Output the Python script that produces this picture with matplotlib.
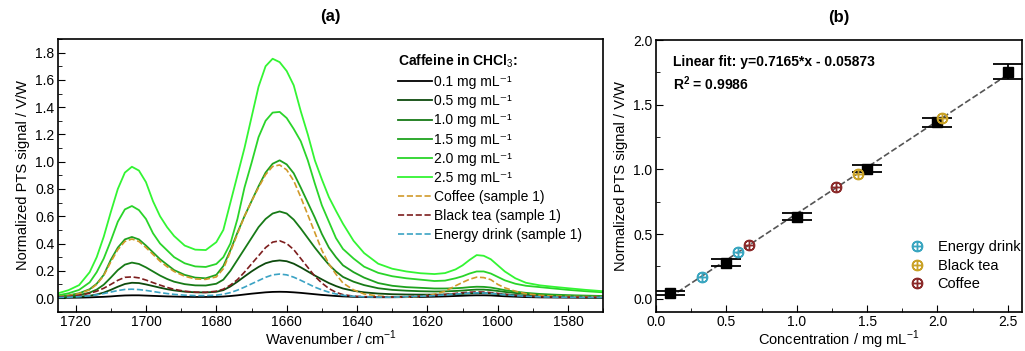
import numpy as np
import matplotlib
matplotlib.use('Agg')
import matplotlib.pyplot as plt
from matplotlib.ticker import MultipleLocator, FormatStrFormatter

plt.rcParams['font.family'] = ['Liberation Sans', 'DejaVu Sans']
plt.rcParams['mathtext.fontset'] = 'custom'
plt.rcParams['mathtext.rm'] = 'Liberation Sans'
plt.rcParams['mathtext.bf'] = 'Liberation Sans:bold'
plt.rcParams['font.size'] = 10

# Espectros PTS
wavenumber = [1725, 1722, 1719, 1716, 1714, 1712, 1710, 1708, 1706, 1704, 1702, 1700, 1698, 1696,
              1694, 1692, 1689, 1686, 1683, 1680, 1678, 1676, 1674, 1672, 1670, 1668, 1666, 1664,
              1662, 1660, 1658, 1656, 1654, 1652, 1650, 1648, 1646, 1644, 1641, 1638, 1634, 1630,
              1626, 1622, 1618, 1615, 1612, 1610, 1608, 1606, 1604, 1602, 1600, 1598, 1595, 1592,
              1588, 1584, 1580, 1575, 1570]

caf_01 = [0.001, 0.002, 0.003, 0.005, 0.007, 0.009, 0.012, 0.016, 0.019, 0.020, 0.020, 0.018, 0.016, 0.014,
          0.012, 0.011, 0.009, 0.008, 0.008, 0.009, 0.011, 0.015, 0.020, 0.026, 0.032, 0.037, 0.042, 0.045,
          0.046, 0.045, 0.042, 0.038, 0.033, 0.028, 0.023, 0.019, 0.015, 0.012, 0.009, 0.007, 0.006, 0.006,
          0.007, 0.008, 0.010, 0.012, 0.015, 0.017, 0.019, 0.020, 0.020, 0.019, 0.016, 0.013, 0.010, 0.007,
          0.005, 0.004, 0.003, 0.002, 0.002]
caf_05 = [0.004, 0.006, 0.010, 0.017, 0.026, 0.040, 0.060, 0.083, 0.103, 0.112, 0.110, 0.100, 0.088, 0.076,
          0.065, 0.056, 0.047, 0.042, 0.041, 0.046, 0.058, 0.085, 0.120, 0.158, 0.195, 0.228, 0.255, 0.270,
          0.276, 0.270, 0.252, 0.225, 0.195, 0.165, 0.137, 0.110, 0.088, 0.070, 0.053, 0.042, 0.033, 0.028,
          0.026, 0.025, 0.025, 0.026, 0.029, 0.031, 0.034, 0.036, 0.036, 0.034, 0.030, 0.026, 0.021, 0.017,
          0.013, 0.010, 0.008, 0.006, 0.005]
caf_10 = [0.008, 0.013, 0.022, 0.040, 0.062, 0.098, 0.150, 0.205, 0.245, 0.260, 0.250, 0.225, 0.195, 0.165,
          0.140, 0.120, 0.102, 0.093, 0.092, 0.105, 0.135, 0.200, 0.280, 0.360, 0.440, 0.520, 0.580, 0.620,
          0.635, 0.620, 0.575, 0.510, 0.440, 0.370, 0.305, 0.245, 0.195, 0.155, 0.120, 0.095, 0.072, 0.060,
          0.054, 0.050, 0.048, 0.049, 0.052, 0.055, 0.059, 0.062, 0.062, 0.058, 0.052, 0.045, 0.037, 0.030,
          0.024, 0.020, 0.017, 0.014, 0.012]
caf_15 = [0.012, 0.020, 0.035, 0.065, 0.105, 0.170, 0.280, 0.370, 0.430, 0.448, 0.430, 0.385, 0.335, 0.285,
          0.245, 0.205, 0.170, 0.150, 0.145, 0.170, 0.235, 0.350, 0.480, 0.600, 0.710, 0.820, 0.920, 0.985,
          1.010, 0.980, 0.915, 0.810, 0.700, 0.590, 0.470, 0.370, 0.300, 0.240, 0.190, 0.150, 0.110, 0.090,
          0.080, 0.075, 0.070, 0.070, 0.072, 0.075, 0.080, 0.083, 0.082, 0.077, 0.068, 0.058, 0.047, 0.038,
          0.030, 0.025, 0.021, 0.018, 0.015]
caf_20 = [0.020, 0.035, 0.060, 0.115, 0.190, 0.290, 0.420, 0.560, 0.650, 0.675, 0.645, 0.580, 0.475, 0.400,
          0.350, 0.300, 0.255, 0.232, 0.228, 0.250, 0.300, 0.400, 0.580, 0.810, 0.990, 1.180, 1.300, 1.360,
          1.365, 1.320, 1.240, 1.150, 1.010, 0.840, 0.680, 0.560, 0.440, 0.360, 0.290, 0.230, 0.185, 0.160,
          0.145, 0.135, 0.125, 0.128, 0.145, 0.160, 0.180, 0.195, 0.195, 0.180, 0.155, 0.130, 0.105, 0.090,
          0.080, 0.070, 0.060, 0.050, 0.042]
caf_25 = [0.035, 0.058, 0.095, 0.190, 0.300, 0.450, 0.630, 0.800, 0.920, 0.963, 0.935, 0.850, 0.710, 0.600,
          0.520, 0.455, 0.385, 0.355, 0.352, 0.410, 0.500, 0.700, 0.900, 1.100, 1.325, 1.550, 1.700, 1.755,
          1.730, 1.665, 1.560, 1.370, 1.200, 1.010, 0.870, 0.740, 0.640, 0.545, 0.420, 0.330, 0.252, 0.215,
          0.195, 0.182, 0.176, 0.183, 0.210, 0.240, 0.280, 0.315, 0.310, 0.285, 0.240, 0.195, 0.145, 0.112,
          0.093, 0.082, 0.072, 0.060, 0.050]
coffee = [0.010, 0.018, 0.032, 0.060, 0.100, 0.165, 0.265, 0.355, 0.415, 0.433, 0.415, 0.370, 0.320, 0.270,
          0.230, 0.195, 0.160, 0.140, 0.137, 0.155, 0.215, 0.340, 0.470, 0.600, 0.710, 0.810, 0.905, 0.965,
          0.976, 0.940, 0.860, 0.740, 0.610, 0.480, 0.350, 0.250, 0.175, 0.110, 0.060, 0.030, 0.015, 0.008,
          0.006, 0.012, 0.028, 0.050, 0.090, 0.115, 0.138, 0.153, 0.150, 0.135, 0.100, 0.075, 0.050, 0.032,
          0.020, 0.014, 0.012, 0.010, 0.010]
black_tea = [0.008, 0.012, 0.020, 0.035, 0.050, 0.072, 0.100, 0.130, 0.152, 0.155, 0.148, 0.132, 0.113, 0.095,
             0.078, 0.064, 0.050, 0.043, 0.042, 0.050, 0.065, 0.095, 0.135, 0.190, 0.250, 0.310, 0.370, 0.410,
             0.420, 0.400, 0.355, 0.290, 0.225, 0.160, 0.110, 0.070, 0.042, 0.025, 0.014, 0.010, 0.008, 0.008,
             0.010, 0.014, 0.020, 0.026, 0.034, 0.039, 0.043, 0.045, 0.044, 0.040, 0.034, 0.028, 0.020, 0.014,
             0.010, 0.008, 0.007, 0.006, 0.006]
energy = [0.004, 0.006, 0.010, 0.017, 0.024, 0.033, 0.044, 0.055, 0.063, 0.065, 0.062, 0.056, 0.048, 0.040,
          0.033, 0.027, 0.021, 0.018, 0.018, 0.021, 0.028, 0.040, 0.058, 0.080, 0.104, 0.128, 0.152, 0.170,
          0.176, 0.170, 0.153, 0.130, 0.105, 0.080, 0.060, 0.043, 0.030, 0.020, 0.013, 0.009, 0.007, 0.007,
          0.009, 0.013, 0.018, 0.023, 0.029, 0.033, 0.036, 0.038, 0.037, 0.034, 0.029, 0.024, 0.018, 0.013,
          0.009, 0.007, 0.006, 0.005, 0.005]

caf_labels = ['0.1', '0.5', '1.0', '1.5', '2.0', '2.5']
caf_colors = ['#000000', '#0d4a0d', '#177a17', '#1fa21f', '#2ad42a', '#33f533']

# Calibracion
conc = [0.1, 0.5, 1.0, 1.5, 2.0, 2.5]
signal = [0.045, 0.28, 0.635, 1.005, 1.365, 1.755]
signal_err = [0.015, 0.026, 0.026, 0.028, 0.035, 0.057]
slope, intercept = 0.7165, -0.05873

energy_x = [0.325, 0.583]
energy_y = [0.17, 0.36]
tea_x = [1.434, 2.032]
tea_y = [0.966, 1.40]
coffee_x = [0.664, 1.278]
coffee_y = [0.416, 0.86]

fig = plt.figure(figsize=(10.25, 3.51), dpi=100)

# ---- (a) espectros
ax = fig.add_axes([0.0566, 0.112, 0.532, 0.777])
spectra = [caf_01, caf_05, caf_10, caf_15, caf_20, caf_25]
for y, lab, col in zip(spectra, caf_labels, caf_colors):
    ax.plot(wavenumber, y, color=col, lw=1.3, label=lab + ' mg mL\u207b\u00b9')
ax.plot(wavenumber, coffee, '--', color='#d19a2a', lw=1.2, label='Coffee (sample 1)')
ax.plot(wavenumber, black_tea, '--', color='#7d1e1e', lw=1.2, label='Black tea (sample 1)')
ax.plot(wavenumber, energy, '--', color='#3ba3c4', lw=1.2, label='Energy drink (sample 1)')

ax.set_xlim(1725, 1570)
ax.set_ylim(-0.1, 1.9)
ax.xaxis.set_major_locator(MultipleLocator(20))
ax.xaxis.set_minor_locator(MultipleLocator(10))
ax.set_yticks(np.arange(0, 1.81, 0.2))
ax.yaxis.set_minor_locator(MultipleLocator(0.1))
ax.yaxis.set_major_formatter(FormatStrFormatter('%.1f'))
ax.set_xlabel(r'Wavenumber / cm$^{-1}$', fontsize=10.5, labelpad=0)
ax.set_ylabel('Normalized PTS signal / V/W', fontsize=10.5, labelpad=4)
ax.set_title('(a)', fontsize=12, fontweight='bold', pad=13)
ax.legend(loc='upper left', bbox_to_anchor=(0.624, 0.95), frameon=False,
          title=r'Caffeine in CHCl$_3$:', title_fontproperties={'weight': 'bold', 'size': 10},
          alignment='left', borderaxespad=0, borderpad=0, handlelength=2.4,
          handletextpad=0.2, labelspacing=0.37, fontsize=10)

# ---- (b) calibracion
bx = fig.add_axes([0.64, 0.112, 0.357, 0.774])
xfit = np.array([conc[0], conc[-1]])
bx.plot(xfit, slope * xfit + intercept, '--', color='#555555', lw=1.2, zorder=1)
bx.errorbar(conc, signal, yerr=signal_err, fmt='s', color='black', ms=7, capsize=11,
            elinewidth=1.3, capthick=1.3, zorder=3)
bx.plot(energy_x, energy_y, ls='none', marker=r'$\oplus$', ms=7.5, color='#3aa6c0', label='Energy drink', zorder=4)
bx.plot(tea_x, tea_y, ls='none', marker=r'$\oplus$', ms=7.5, color='#c9a227', label='Black tea', zorder=4)
bx.plot(coffee_x, coffee_y, ls='none', marker=r'$\oplus$', ms=7.5, color='#8b2a2a', label='Coffee', zorder=4)

bx.set_xlim(0, 2.6)
bx.set_ylim(-0.1, 2.0)
bx.xaxis.set_major_locator(MultipleLocator(0.5))
bx.xaxis.set_minor_locator(MultipleLocator(0.25))
bx.yaxis.set_major_locator(MultipleLocator(0.5))
bx.yaxis.set_minor_locator(MultipleLocator(0.25))
bx.set_xlabel(r'Concentration / mg mL$^{-1}$', fontsize=10.5, labelpad=0)
bx.set_ylabel('Normalized PTS signal / V/W', fontsize=10.5, labelpad=4)
bx.set_title('(b)', fontsize=12, fontweight='bold', pad=13)
bx.text(0.12, 1.83, 'Linear fit: y=0.7165*x - 0.05873', fontweight='bold', fontsize=10, va='center')
bx.text(0.12, 1.665, r'R$^\mathbf{2}$ = 0.9986', fontweight='bold', fontsize=10, va='center')
bx.legend(loc='upper left', bbox_to_anchor=(0.69, 0.263), frameon=False, fontsize=10.5,
          handletextpad=0.8, labelspacing=0.3, borderaxespad=0, borderpad=0, handlelength=1.2)

for a in (ax, bx):
    a.tick_params(which='both', direction='in', labelsize=10, pad=2.5)
    a.tick_params(which='major', length=5)
    a.tick_params(which='minor', length=3)
    for s in a.spines.values():
        s.set_linewidth(1.2)

plt.savefig('out.png', dpi=100)
